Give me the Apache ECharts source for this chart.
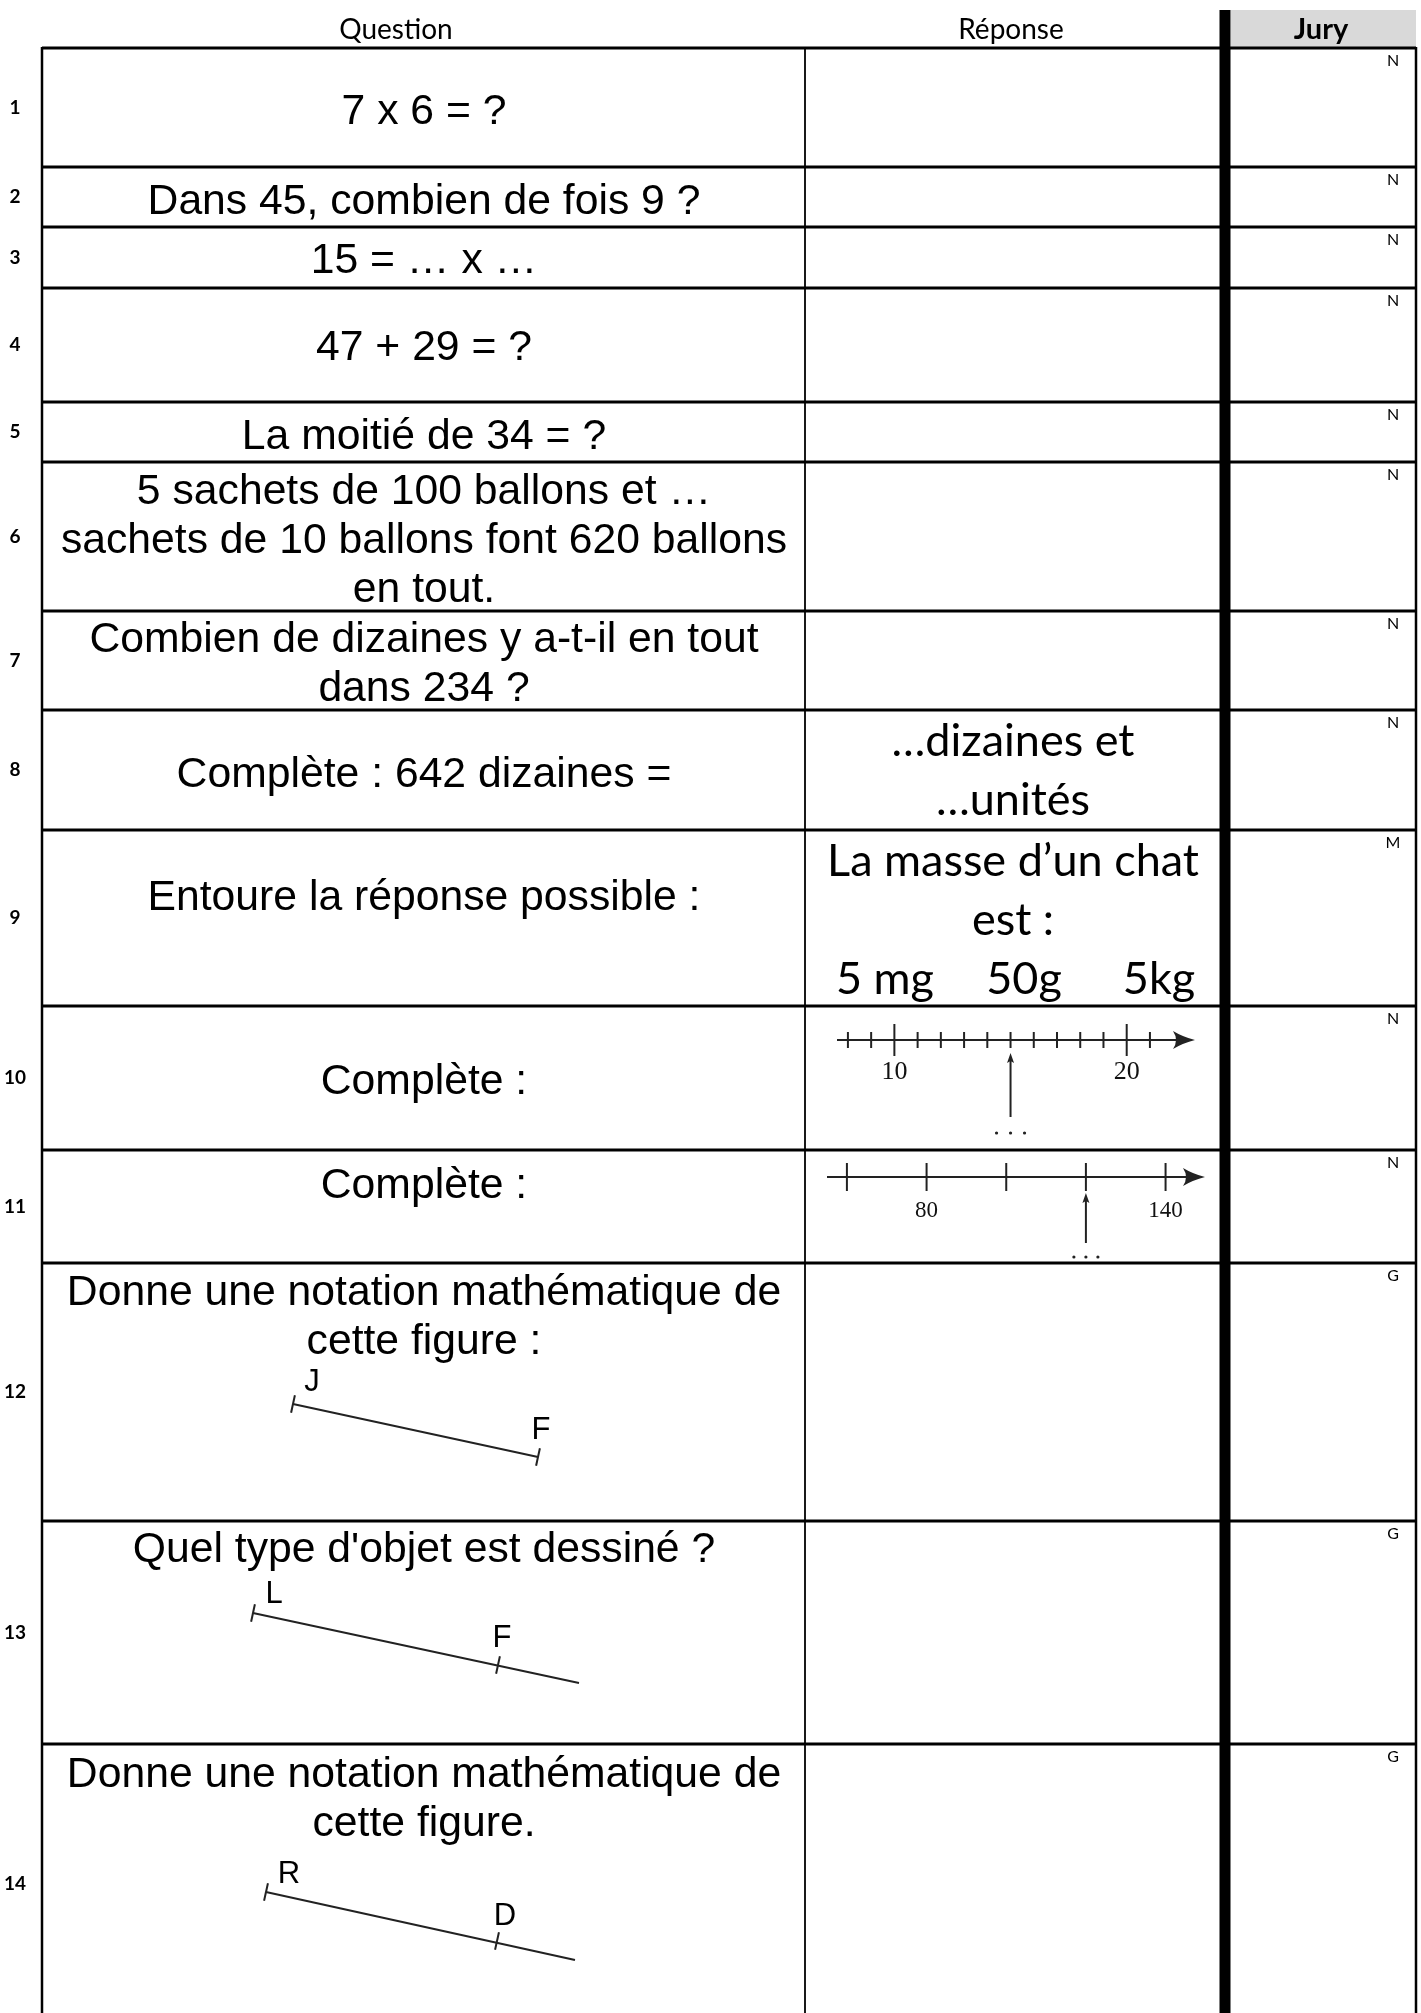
<!DOCTYPE html>
<html><head><meta charset="utf-8">
<script src="https://cdn.jsdelivr.net/npm/echarts@6/dist/echarts.min.js"></script>
<style>html,body{margin:0;padding:0;background:#fff}#c{width:1421px;height:2013px}</style>
</head><body><div id="c"></div>
<script>
// ---------- DATA ----------
const headers = ['Question', 'Réponse', 'Jury'];
const rowNumbers = ['1','2','3','4','5','6','7','8','9','10','11','12','13','14'];
const questions = [
  '7 x 6 = ?',
  'Dans 45, combien de fois 9 ?',
  '15 = … x …',
  '47 + 29 = ?',
  'La moitié de 34 = ?',
  '5 sachets de 100 ballons et …\nsachets de 10 ballons font 620 ballons\nen tout.',
  'Combien de dizaines y a-t-il en tout\ndans 234 ?',
  'Complète : 642 dizaines =',
  'Entoure la réponse possible :',
  'Complète :',
  'Complète :',
  'Donne une notation mathématique de\ncette figure :',
  "Quel type d'objet est dessiné ?",
  'Donne une notation mathématique de\ncette figure.'
];
const responses = ['', '', '', '', '', '', '', '…dizaines et\n…unités', 'La masse d’un chat\nest :', '', '', '', '', ''];
const massChoices = ['5 mg', '50g', '5kg'];
const juryCodes = ['N','N','N','N','N','N','N','N','M','N','N','G','G','G'];

// number line of question 10
const nl1Ticks = [8,9,10,11,12,13,14,15,16,17,18,19,20,21];
const nl1Major = [10, 20];
const nl1Pointer = 15;
// number line of question 11
const nl2Ticks = [60, 80, 100, 120, 140];
const nl2Labels = [80, 140];
const nl2Pointer = 120;
// figures of questions 12-14
const figureLabels = [['J','F'], ['L','F'], ['R','D']];

// ---------- LAYOUT ----------
const W = 1421, H = 2013;
const rowEdges = [48, 167, 227, 288, 402, 462, 611, 710, 830, 1006, 1150, 1263, 1521, 1744, 2024];
const qCenters = [112, 202, 261, 348, 437, 541, 665, 775, 898, 1082, 1186, 1318, 1550, 1800];
const rCenters = [0,0,0,0,0,0,0, 771, 891, 0,0,0,0,0];
const massY = 979, massX = [885, 1024, 1159];
const X = {num: 15, left: 42, div: 805, thick: 1225, right: 1416, qc: 424, rc: 1013, jury: 1393};
const figGeom = [
  {a:[293,1404], b:[538,1457], ticks:[[293,1404],[538,1457]], la:[312,1382], lb:[541,1430]},
  {a:[253,1613], b:[579,1683], ticks:[[253,1613],[498,1665]], la:[274,1594], lb:[502,1638]},
  {a:[266,1892], b:[575,1960], ticks:[[266,1892],[497,1941]], la:[289,1874], lb:[505,1916]}
];
const QFONT = '42.7px "Liberation Sans", Arial, sans-serif';
const RFONT = '45px Lato, "Open Sans", sans-serif';
const LFONT = '31px "Liberation Sans", Arial, sans-serif';

const chart = echarts.init(document.getElementById('c'));

function txt(x, y, text, font, align, lh) {
  return {type:'text', style:{text:text, x:x, y:y, font:font, fill:'#000', align:align||'center', verticalAlign:'middle', lineHeight:lh||undefined}};
}
function ln(p, q, w, c) {
  return {type:'line', shape:{x1:p[0], y1:p[1], x2:q[0], y2:q[1]}, style:{stroke:c||'#000', lineWidth:w}};
}

// frame & header
function frameItem(params, api) {
  const P = (x,y)=>api.coord([x,y]);
  const ch = [];
  const g0 = P(1231, 10), g1 = P(X.right, 48);
  ch.push({type:'rect', shape:{x:g0[0], y:g0[1], width:g1[0]-g0[0], height:g1[1]-g0[1]}, style:{fill:'#d9d9d9'}});
  let p = P(396, 30); ch.push(txt(p[0], p[1], headers[0], '28px Lato, sans-serif'));
  p = P(1011, 30); ch.push(txt(p[0], p[1], headers[1], '28px Lato, sans-serif'));
  p = P(1321, 30); ch.push(txt(p[0], p[1], headers[2], 'bold 29px Lato, sans-serif'));
  ch.push(ln(P(X.left, 48), P(X.right, 48), 3));
  ch.push(ln(P(X.left, 47), P(X.left, H), 2.5));
  ch.push(ln(P(X.div, 47), P(X.div, H), 1.8));
  ch.push(ln(P(X.right, 47), P(X.right, H), 2.5));
  ch.push(ln(P(X.thick, 10), P(X.thick, H), 11));
  return {type:'group', children: ch};
}

function rowItem(params, api) {
  const i = api.value(0);
  const P = (x,y)=>api.coord([x,y]);
  const y0 = rowEdges[i], y1 = rowEdges[i+1];
  const ch = [];
  let p = P(X.num, Math.min((y0+y1)/2, 1885));
  ch.push(txt(p[0], p[1], rowNumbers[i], 'bold 19px Lato, sans-serif'));
  p = P(X.qc, qCenters[i]);
  ch.push(txt(p[0], p[1], questions[i], QFONT, 'center', 49));
  if (responses[i]) {
    p = P(X.rc, rCenters[i]);
    ch.push(txt(p[0], p[1], responses[i], RFONT, 'center', 59));
  }
  p = P(X.jury, y0 + 13);
  ch.push(txt(p[0], p[1], juryCodes[i], '16px Lato, sans-serif'));
  if (i < rowNumbers.length - 1) ch.push(ln(P(X.left, y1), P(X.right, y1), 3));
  return {type:'group', children: ch};
}

function massItem(params, api) {
  const i = params.dataIndex;
  const p = api.coord([massX[i], massY]);
  return txt(p[0], p[1], massChoices[i], RFONT);
}

// number lines
const NL = [
  {axisY:34, tick:8, major:16, labelY:66, font:'26px "Liberation Serif", serif', arrowFrom:111, arrowTo:47, dotsY:127, dotGap:14, lw:2},
  {axisY:27, tick:14, major:14, labelY:61, font:'23px "Liberation Serif", serif', arrowFrom:93, arrowTo:43, dotsY:107, dotGap:12, lw:2}
];
function nlAxisItem(k) {
  return function(params, api) {
    const L = NL[k];
    const a = api.coord([api.value(0), L.axisY]), b = api.coord([api.value(1), L.axisY]);
    const tip = b[0];
    return {type:'group', children:[
      ln([a[0], a[1]], [tip-8, b[1]], L.lw, '#222'),
      {type:'path', shape:{pathData:'M'+tip+' '+b[1]+' Q'+(tip-12)+' '+(b[1]-3)+' '+(tip-22)+' '+(b[1]-9)+' Q'+(tip-16)+' '+b[1]+' '+(tip-22)+' '+(b[1]+9)+' Q'+(tip-12)+' '+(b[1]+3)+' '+tip+' '+b[1]+'Z'}, style:{fill:'#222'}}
    ]};
  };
}
function nlTickItem(k, majors) {
  return function(params, api) {
    const L = NL[k];
    const v = api.value(0);
    const h = majors.indexOf(v) >= 0 ? L.major : L.tick;
    const a = api.coord([v, L.axisY - h]), b = api.coord([v, L.axisY + h]);
    return ln(a, b, L.lw, '#222');
  };
}
function nlLabelItem(k) {
  return function(params, api) {
    const L = NL[k];
    const v = api.value(0);
    const p = api.coord([v, L.labelY]);
    return {type:'text', style:{text:String(v), x:p[0], y:p[1], font:L.font, fill:'#111', align:'center', verticalAlign:'middle'}};
  };
}
function nlPointerItem(k) {
  return function(params, api) {
    const L = NL[k];
    const v = api.value(0);
    const a = api.coord([v, L.arrowFrom]), b = api.coord([v, L.arrowTo]);
    const ch = [ln(a, [b[0], b[1]+6], L.lw, '#222'),
      {type:'polygon', shape:{points:[[b[0], b[1]], [b[0]-3.5, b[1]+10], [b[0], b[1]+8], [b[0]+3.5, b[1]+10]]}, style:{fill:'#222'}}];
    const d = api.coord([v, L.dotsY]);
    for (let j=-1;j<=1;j++) ch.push({type:'circle', shape:{cx:d[0]+j*L.dotGap, cy:d[1], r:1.6}, style:{fill:'#222'}});
    return {type:'group', children: ch};
  };
}

// figures
function figItem(params, api) {
  const i = params.dataIndex;
  const G = figGeom[i];
  const P = (pt)=>api.coord(pt);
  const a = P(G.a), b = P(G.b);
  const dx = b[0]-a[0], dy = b[1]-a[1], len = Math.hypot(dx, dy);
  const nx = -dy/len, ny = dx/len;
  const ch = [ln(a, b, 2, '#222')];
  G.ticks.forEach(t => { const c = P(t); ch.push(ln([c[0]-nx*9, c[1]-ny*9], [c[0]+nx*9, c[1]+ny*9], 2, '#222')); });
  let p = P(G.la); ch.push(txt(p[0], p[1], figureLabels[i][0], LFONT));
  p = P(G.lb); ch.push(txt(p[0], p[1], figureLabels[i][1], LFONT));
  return {type:'group', children: ch};
}

const option = {
  animation: false,
  backgroundColor: '#fff',
  grid: [
    {left:0, top:0, width:W, height:H},
    {left:837, top:1006, width:358, height:144},
    {left:827, top:1150, width:378, height:113}
  ],
  xAxis: [
    {type:'value', gridIndex:0, min:0, max:W, show:false},
    {type:'value', gridIndex:1, min:7.53, max:22.94, show:false},
    {type:'value', gridIndex:2, min:55, max:149.9, show:false}
  ],
  yAxis: [
    {type:'value', gridIndex:0, min:0, max:H, inverse:true, show:false},
    {type:'value', gridIndex:1, min:0, max:144, inverse:true, show:false},
    {type:'value', gridIndex:2, min:0, max:113, inverse:true, show:false}
  ],
  series: [
    {type:'custom', xAxisIndex:0, yAxisIndex:0, clip:false, data:[[0,0]], renderItem: frameItem},
    {type:'custom', xAxisIndex:0, yAxisIndex:0, clip:false, data: rowNumbers.map((n,i)=>[i,0]), renderItem: rowItem},
    {type:'custom', xAxisIndex:0, yAxisIndex:0, clip:false, data: massChoices.map((m,i)=>[i,0]), renderItem: massItem},
    {type:'custom', xAxisIndex:0, yAxisIndex:0, clip:false, data: figureLabels.map((f,i)=>[i,0]), renderItem: figItem},
    {type:'custom', xAxisIndex:1, yAxisIndex:1, clip:false, data:[[7.53, 22.94]], renderItem: nlAxisItem(0)},
    {type:'custom', xAxisIndex:1, yAxisIndex:1, clip:false, data: nl1Ticks.map(v=>[v,0]), renderItem: nlTickItem(0, nl1Major)},
    {type:'custom', xAxisIndex:1, yAxisIndex:1, clip:false, data: nl1Major.map(v=>[v,0]), renderItem: nlLabelItem(0)},
    {type:'custom', xAxisIndex:1, yAxisIndex:1, clip:false, data: [[nl1Pointer,0]], renderItem: nlPointerItem(0)},
    {type:'custom', xAxisIndex:2, yAxisIndex:2, clip:false, data:[[55, 149.9]], renderItem: nlAxisItem(1)},
    {type:'custom', xAxisIndex:2, yAxisIndex:2, clip:false, data: nl2Ticks.map(v=>[v,0]), renderItem: nlTickItem(1, [])},
    {type:'custom', xAxisIndex:2, yAxisIndex:2, clip:false, data: nl2Labels.map(v=>[v,0]), renderItem: nlLabelItem(1)},
    {type:'custom', xAxisIndex:2, yAxisIndex:2, clip:false, data: [[nl2Pointer,0]], renderItem: nlPointerItem(1)}
  ]
};
chart.setOption(option);
</script>
</body></html>
